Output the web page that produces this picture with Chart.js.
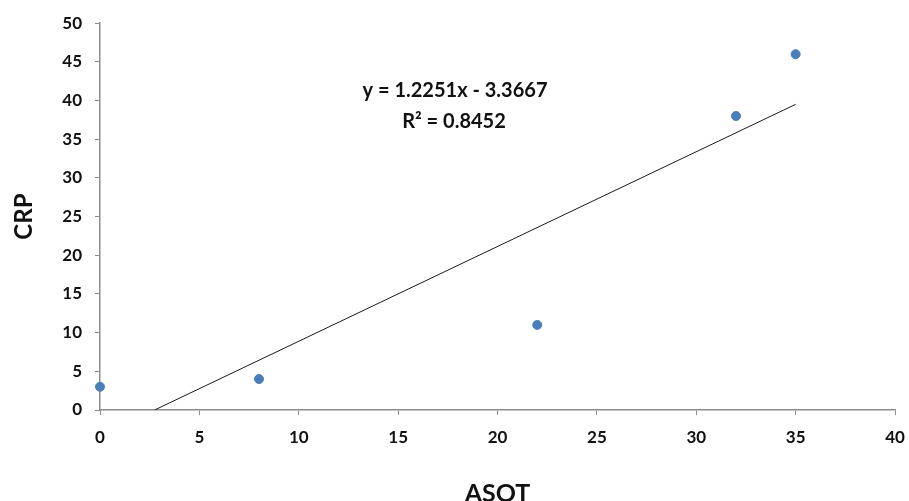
<!DOCTYPE html>
<html>
<head>
<meta charset="utf-8">
<script src="https://cdn.jsdelivr.net/npm/chart.js@4.4.1/dist/chart.umd.min.js"></script>
<style>
  html, body { margin: 0; padding: 0; background: #fff; }
  #wrap { width: 909px; height: 501px; }
</style>
</head>
<body>
<div id="wrap"><canvas id="crpChart" width="909" height="501"></canvas></div>
<script>
// data
const asot = [0, 8, 22, 32, 35];
const crp = [3, 4, 11, 38, 46];
const xTicks = [0, 5, 10, 15, 20, 25, 30, 35, 40];
const yTicks = [0, 5, 10, 15, 20, 25, 30, 35, 40, 45, 50];
const eqLines = ['y = 1.2251x - 3.3667', 'R\u00b2 = 0.8452'];

// least squares trendline, clipped at y = 0 like the original
const n = asot.length;
const mx = asot.reduce((a, b) => a + b, 0) / n;
const my = crp.reduce((a, b) => a + b, 0) / n;
let sxy = 0, sxx = 0;
for (let i = 0; i < n; i++) {
  sxy += (asot[i] - mx) * (crp[i] - my);
  sxx += (asot[i] - mx) * (asot[i] - mx);
}
const slope = sxy / sxx;
const icept = my - slope * mx;
const xStart = -icept / slope;
const xEnd = Math.max(...asot);
const trend = [
  { x: xStart, y: 0 },
  { x: xEnd, y: slope * xEnd + icept }
];

const axisGray = '#8c8c8c';
const fontFam = 'Lato, "Open Sans", sans-serif';

// equation label drawn inside the plot
const eqLabel = {
  id: 'eqLabel',
  afterDatasetsDraw(chart) {
    const c = chart.ctx;
    c.save();
    c.font = 'bold 20px ' + fontFam;
    c.fillStyle = '#111';
    c.textAlign = 'center';
    c.textBaseline = 'middle';
    c.fillText(eqLines[0], 455, 91);
    c.fillText(eqLines[1], 454, 122);
    c.restore();
  }
};

const ctx = document.getElementById('crpChart').getContext('2d');
new Chart(ctx, {
  type: 'scatter',
  data: {
    datasets: [{
      label: 'CRP',
      data: asot.map((x, i) => ({ x: x, y: crp[i] })),
      backgroundColor: '#4a7ebb',
      borderColor: '#4a7ebb',
      pointRadius: 4.5,
      clip: false,
      order: 1
    }, {
      label: 'Linear',
      type: 'line',
      data: trend,
      borderColor: '#1a1a1a',
      borderWidth: 1,
      pointRadius: 0,
      fill: false,
      order: 2
    }]
  },
  options: {
    responsive: false,
    animation: false,
    layout: { padding: { top: 21, right: 14, left: 0, bottom: 0 } },
    plugins: {
      legend: { display: false },
      tooltip: { enabled: false }
    },
    scales: {
      x: {
        type: 'linear',
        min: 0,
        max: 40,
        afterBuildTicks: (s) => { s.ticks = xTicks.map(v => ({ value: v })); },
        afterFit: (s) => { s.height = 91; s.paddingRight = 0; s.paddingLeft = 0; },
        grid: { drawOnChartArea: false, tickLength: 5, color: axisGray },
        border: { color: axisGray, width: 1.5 },
        ticks: { color: '#111', padding: 12, font: { family: fontFam, size: 17, weight: 'bold' } },
        title: {
          display: true,
          text: 'ASOT',
          color: '#111',
          padding: { top: 0, bottom: -5 },
          font: { family: fontFam, size: 25, weight: 'bold', lineHeight: 1 }
        }
      },
      y: {
        type: 'linear',
        min: 0,
        max: 50,
        afterBuildTicks: (s) => { s.ticks = yTicks.map(v => ({ value: v })); },
        afterFit: (s) => { s.width = 100; },
        grid: { drawOnChartArea: false, tickLength: 5, color: axisGray },
        border: { color: axisGray, width: 1.5 },
        ticks: { color: '#111', padding: 13, font: { family: fontFam, size: 17, weight: 'bold' } },
        title: {
          display: true,
          text: 'CRP',
          color: '#111',
          padding: { top: 12, bottom: 0 },
          font: { family: fontFam, size: 24, weight: 'bold', lineHeight: 1 }
        }
      }
    }
  },
  plugins: [eqLabel]
});
</script>
</body>
</html>
